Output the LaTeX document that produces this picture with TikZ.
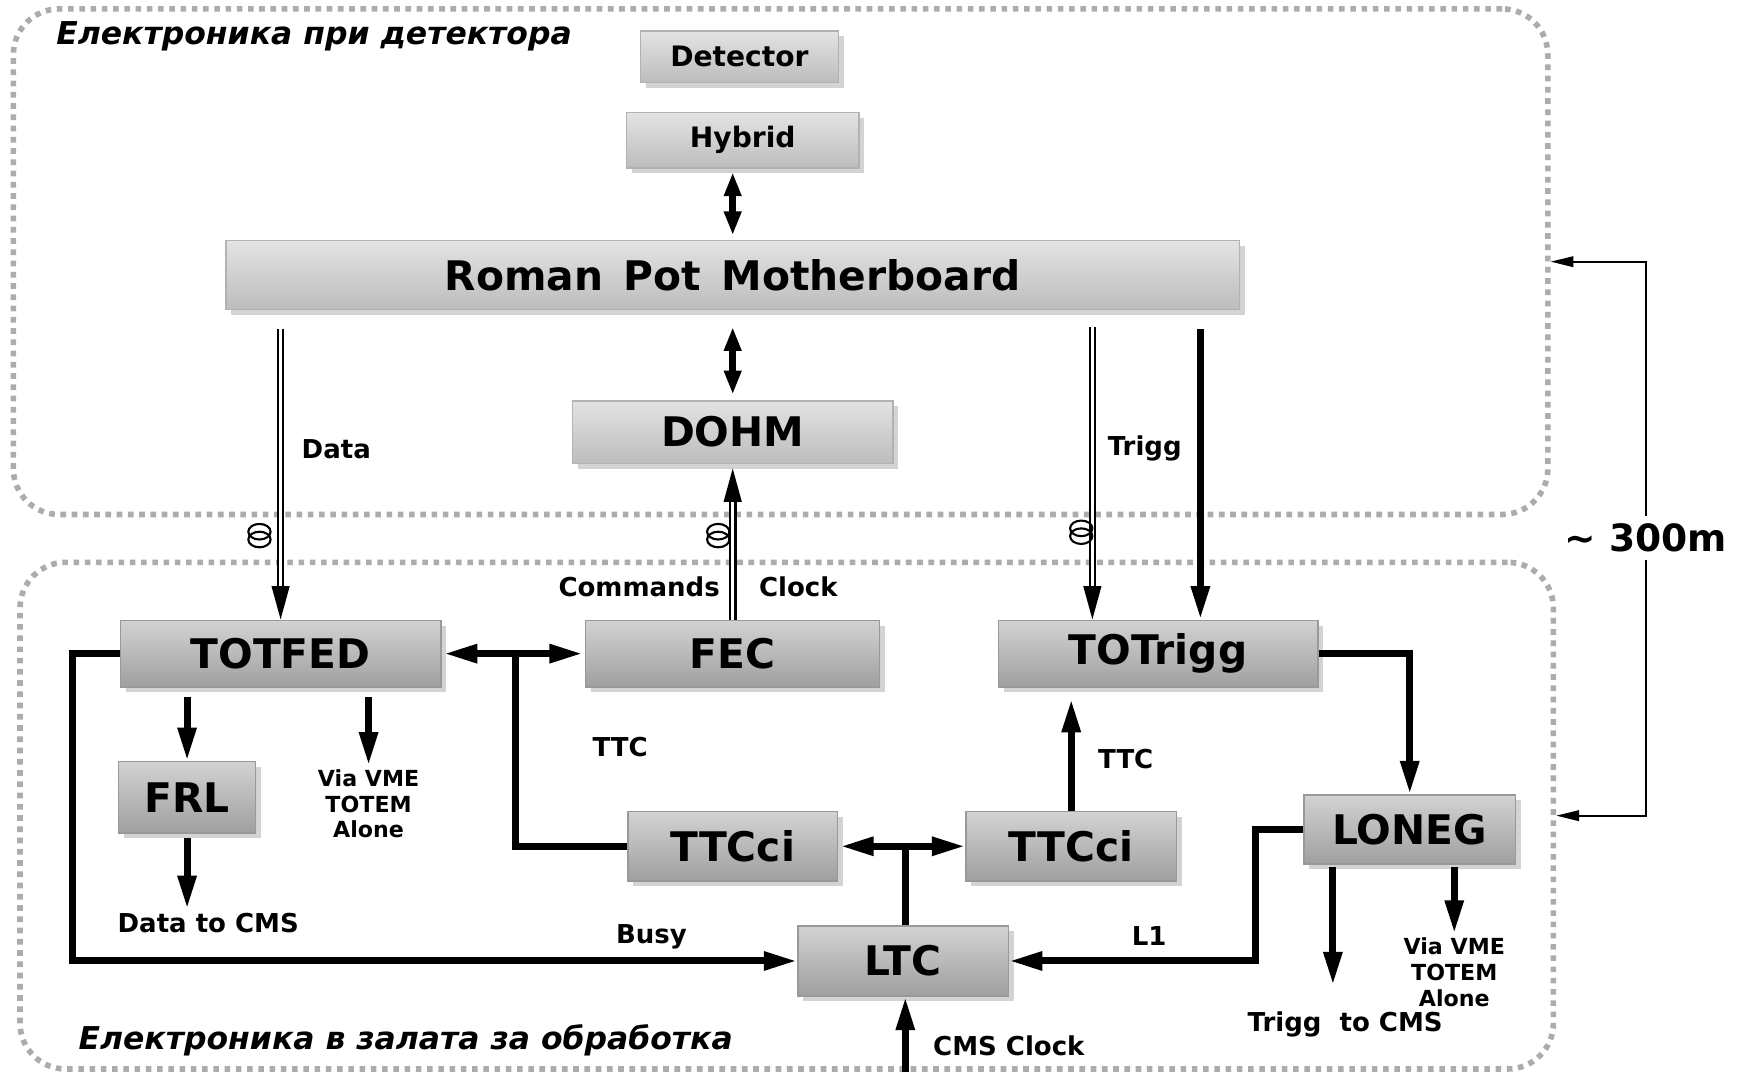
\documentclass[tikz,border=0pt]{standalone}
\usepackage{fontspec}
\setmainfont{DejaVu Sans}
\usetikzlibrary{arrows.meta,shadows,calc}
\newlength\unitpx
\setlength\unitpx{0.3168pt}
\tikzset{
    fibre/.pic = {
    \draw[line width=0.6pt] (0,-3.5) ellipse (10 and 7);
    \draw[line width=0.6pt] (0,3.5) ellipse (10 and 7);
    }
}
\tikzset{
    block/.style = {draw=gray!60, line width=0.4pt, top color=gray!22, bottom color=gray!52, inner sep=0pt,
        drop shadow={shadow xshift=1.5pt, shadow yshift=-1.5pt, opacity=0.35}},
    darkblock/.style = {block, top color=gray!35, bottom color=gray!75, draw=gray!80},
    dims/.style 2 args = {minimum width=#1\unitpx, minimum height=#2\unitpx},
    bigtext/.style = {font=\bfseries\fontsize{11.6}{13}\selectfont},
    midtext/.style = {font=\bfseries\fontsize{8}{9}\selectfont},
    lbl/.style = {font=\bfseries\fontsize{7.4}{9}\selectfont, inner sep=1pt},
    note/.style = {font=\bfseries\fontsize{6.3}{7.3}\selectfont, align=center, inner sep=1pt},
    heading/.style = {font=\bfseries\itshape\fontsize{8.95}{10}\selectfont, inner sep=0pt, anchor=west},
    zone/.style = {draw=gray!65, line width=1.6pt, dash pattern=on 1.6pt off 1.6pt, rounded corners=13pt, inner sep=0pt},
    wire/.style = {line width=2pt},
    shortboth/.style = {wire, {Triangle[length=6.8pt,width=4.6pt]}-{Triangle[length=6.8pt,width=4.6pt]}},
    fibreline/.style = {double, double distance=0.8pt, line width=0.7pt, ->},
    bracket/.style = {line width=0.6pt, -{Triangle[length=6.5pt,width=3pt]}}
}

\begin{document}
\begin{tikzpicture}[x=0.3168pt, y=-0.3168pt, >={Triangle[length=9.5pt,width=5pt]}]
    \useasboundingbox (0,0) rectangle (1568,963);
    % the two areas
    \node[zone, dims={1378}{454}] (upper) at (701,235) {};
    \node[zone, dims={1377}{455}] (lower) at (706.5,732.5) {};
    \node[heading] (hdup) at (50,33) {Електроника при детектора};
    \node[heading] (hdlow) at (70,934) {Електроника в залата за обработка};

    % boxes
    \node[block, midtext, dims={178}{46}] (det) at (664,51) {Detector};
    \node[block, midtext, dims={209}{50}] (hyb) at (667,126) {Hybrid};
    \node[block, bigtext, dims={910}{62}] (rpm) at (658,247) {Roman\hspace{0.5em}Pot\hspace{0.5em}Motherboard};
    \node[block, bigtext, dims={288}{56}] (dohm) at (658,388) {DOHM};
    \node[darkblock, bigtext, dims={288}{60}] (totfed) at (252,587) {TOTFED};
    \node[darkblock, bigtext, dims={264}{60}] (fec) at (658,587) {FEC};
    \node[darkblock, bigtext, dims={287}{60}] (totrigg) at (1040,587) {TOTrigg};
    \node[darkblock, bigtext, dims={123}{64}] (frl) at (168,716) {FRL};
    \node[darkblock, bigtext, dims={188}{62}] (ttcl) at (658,760) {TTCci};
    \node[darkblock, bigtext, dims={189}{62}] (ttcr) at (962,760) {TTCci};
    \node[darkblock, bigtext, dims={190}{62}] (loneg) at (1266,745) {LONEG};
    \node[darkblock, bigtext, dims={189}{63}] (ltc) at (811,863) {LTC};

    % labels
    \node[lbl] (ldata) at (302,403) {Data};
    \node[lbl] (ltrigg) at (1028,403) {Trigg};
    \node[lbl] (lcmd) at (574,527) {Commands};
    \node[lbl] (lclk) at (717,527) {Clock};
    \node[lbl] (lttca) at (557,671) {TTC};
    \node[lbl] (lttcb) at (1011,682) {TTC};
    \node[note] (via1) at (331,722) {Via VME\\TOTEM\\Alone};
    \node[lbl] (dcms) at (187,829) {Data to CMS};
    \node[lbl] (lbusy) at (585,841) {Busy};
    \node[lbl] (lone) at (1032,841) {L1};
    \node[note] (via2) at (1306,873) {Via VME\\TOTEM\\Alone};
    \node[lbl] (tcms) at (1208,920) {Trigg\ \ to CMS};
    \node[lbl] (lclock) at (906,939) {CMS Clock};
    \node[font=\bfseries\fontsize{10.7}{12}\selectfont, inner sep=2pt] (dist) at (1478,483) {\textasciitilde\ 300m};

    % detector side
    \draw[shortboth, shorten <=3\unitpx, shorten >=4\unitpx] (rpm.north |- hyb.south) -- (rpm.north);
    \draw[shortboth, shorten <=15\unitpx, shorten >=5\unitpx] (rpm.south) -- (dohm.north);
    \coordinate (trga) at ($(totrigg.north)+(-59,0)$);
    \coordinate (trgb) at ($(totrigg.north)+(38,0)$);
    \draw[fibreline, shorten <=17\unitpx] (totfed.north |- rpm.south) -- (totfed.north);
    \draw[fibreline, shorten >=4\unitpx] (fec.north) -- (dohm.south);
    \draw[fibreline, shorten <=15\unitpx] (trga |- rpm.south) -- (trga);
    \draw[wire, ->, shorten <=17\unitpx] (trgb |- rpm.south) -- (trgb);
    \path (233,481) pic {fibre};
    \path (645,481) pic {fibre};
    \path (971,478) pic {fibre};

    % counting room
    \coordinate (jfed) at (463,587);
    \coordinate (jttc) at (813,760);
    \coordinate (trgout) at ($(loneg.south)+(-69,0)$);
    \coordinate (clkin) at (813,963);
    \draw[wire, <->, shorten <=2\unitpx, shorten >=2\unitpx] (totfed.east) -- (fec.west);
    \draw[wire] (jfed) |- (ttcl.west);
    \draw[wire, <->, shorten <=2\unitpx] (ttcl.east) -- (ttcr.west);
    \draw[wire] (jttc) -- (jttc |- ltc.north);
    \draw[wire, ->, shorten >=10\unitpx] (ttcr.north) -- (ttcr.north |- totrigg.south);
    \draw[wire, ->] (totrigg.east) -| (loneg.north);
    \draw[wire, ->] (loneg.west) -- ++(-43,0) |- (ltc.east);
    \draw[wire, ->] (totfed.west) -- ++(-42,0) |- (ltc.west);
    \draw[wire, ->, shorten <=8\unitpx] (frl.north |- totfed.south) -- (frl.north);
    \draw[wire, ->, shorten <=8\unitpx] (via1.north |- totfed.south) -- (via1.north);
    \draw[wire, ->, shorten <=4\unitpx] (frl.south) -- (frl.south |- dcms.north);
    \draw[wire, ->, shorten <=2\unitpx, shorten >=20\unitpx] (trgout) -- (trgout |- tcms.north);
    \draw[wire, ->, shorten <=2\unitpx] (via2.north |- loneg.south) -- (via2.north);
    \draw[wire, ->] (clkin) -- (clkin |- ltc.south);

    % distance
    \draw[bracket] (dist.north) |- (upper.east);
    \draw[bracket] (dist.south) |- (lower.east);
\end{tikzpicture}
\end{document}
